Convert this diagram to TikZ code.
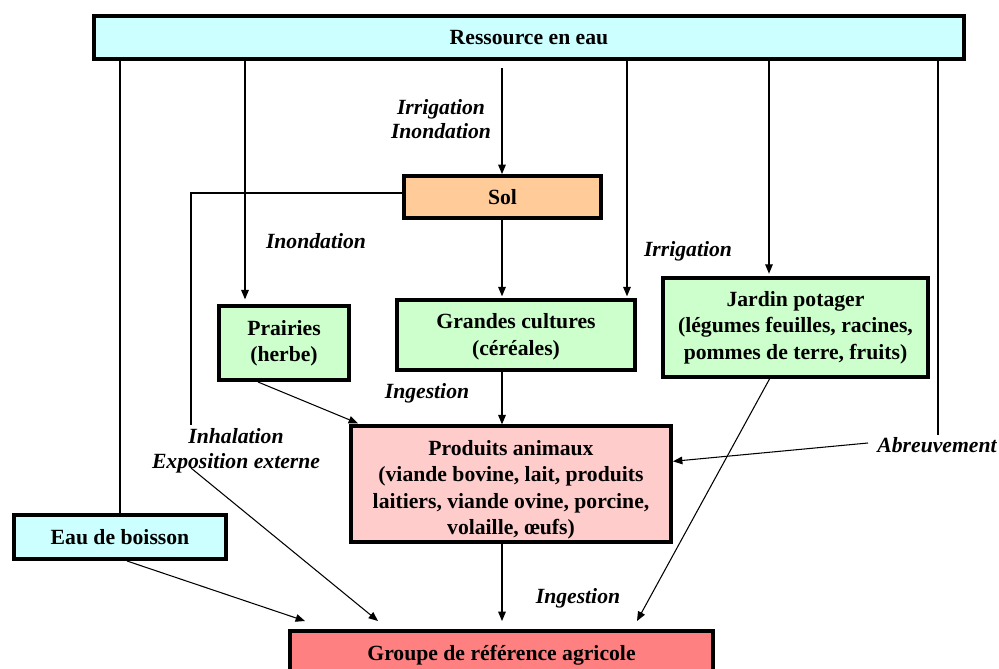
\documentclass[tikz,border=0pt]{standalone}
\usepackage{fontspec}
\setmainfont{Liberation Serif}
\usetikzlibrary{arrows.meta,calc}

\definecolor{eau}{HTML}{CCFFFF}
\definecolor{sol}{HTML}{FFCC99}
\definecolor{vege}{HTML}{CCFFCC}
\definecolor{anim}{HTML}{FFCCCC}
\definecolor{grp}{HTML}{FF8080}

\begin{document}
\begin{tikzpicture}[x=0.03cm,y=-0.03cm]

% ---------- styles ----------
\tikzset{
  box/.style={draw=black,line width=3.4pt,align=center,inner sep=2pt,
    font=\fontsize{18.5}{22.5}\selectfont\bfseries},
  lbl/.style={align=center,inner sep=1pt,
    font=\fontsize{18.5}{21}\selectfont\bfseries\itshape},
  fil/.style={line width=0.9pt},
  arr/.style={fil,-{Triangle[length=8pt,width=6.5pt]}}
}

% ---------- frame ----------
\useasboundingbox (0,0) rectangle (999,669);
\clip (0,0) rectangle (999,669);

% ---------- boxes ----------
\node[box,fill=eau,minimum width=26.1cm,minimum height=1.29cm]
  (res) at (529,37.5) {Ressource en eau};
\node[box,fill=sol,minimum width=5.91cm,minimum height=1.26cm]
  (sol) at (502.5,197) {Sol};
\node[box,fill=vege,minimum width=3.9cm,minimum height=2.22cm]
  (prairies) at (284,343) {Prairies\\(herbe)};
\node[box,fill=vege,minimum width=7.14cm,minimum height=2.1cm]
  (cultures) at (516,335) {\rule{0pt}{16pt}Grandes cultures\\(céréales)};
\node[box,fill=vege,minimum width=7.95cm,minimum height=2.97cm]
  (jardin) at (795.5,327.5) {Jardin potager\\(légumes feuilles, racines,\\pommes de terre, fruits)};
\node[box,fill=anim,minimum width=9.6cm,minimum height=3.45cm]
  (produits) at (511,484) {\rule{0pt}{23pt}Produits animaux\\(viande bovine, lait, produits\\laitiers, viande ovine, porcine,\\volaille, œufs)};
\node[box,fill=eau,minimum width=6.36cm,minimum height=1.32cm]
  (boisson) at (120,537) {Eau de boisson};
\node[box,fill=grp,minimum width=12.69cm,minimum height=1.44cm]
  (groupe) at (501.5,655) {Groupe de référence agricole};

% ---------- labels ----------
\node[lbl] (irrinond) at (441,119) {Irrigation\\Inondation};
\node[lbl] (inond)    at (316,241) {Inondation};
\node[lbl] (irrig)    at (688,251) {Irrigation};
\node[lbl] (ingA)     at (427,393) {Ingestion};
\node[lbl] (ingB)     at (578,598) {Ingestion};
\node[lbl] (inhal)    at (236,451) {Inhalation\\Exposition externe};
\node[lbl] (abreuv)   at (937,445) {Abreuvement};

% ---------- taps on the water resource ----------
\coordinate (rBoisson)  at (120,61);
\coordinate (rPrairies) at (245,61);
\coordinate (rSol)      at (502,68);
\coordinate (rCultures) at (627,61);
\coordinate (rJardin)   at (769,61);
\coordinate (rAbreuv)   at (938,61);
\coordinate (inhTop)    at (191,425);
\coordinate (expo)      at (191,468);

\draw[fil] (rBoisson) -- (rBoisson |- boisson.north);
\draw[arr,shorten >=4pt] (rPrairies) -- (rPrairies |- prairies.north);
\draw[arr] (rSol) -- (rSol |- sol.north);
\draw[arr,shorten >=1.5pt] (rCultures) -- (rCultures |- cultures.north);
\draw[arr,shorten >=2pt] (rJardin) -- (rJardin |- jardin.north);
\draw[fil] (rAbreuv) -- (938,435);

% soil
\draw[fil] ($(sol.west)+(0,-4)$) -| (inhTop);
\draw[arr,shorten >=1.5pt] (rSol |- sol.south) -- (rSol |- cultures.north);

% feed to animals
\draw[arr] ($(prairies.south)+(-26,0)$) -- ($(produits.north west)+(9,-1)$);
\draw[arr] (cultures.south -| rSol) -- (produits.north -| rSol);
\draw[arr] ($(abreuv.west)+(-8,-2)$) -- ($(produits.north east)!0.31!(produits.south east)$);

% exposure of the group
\draw[arr] ($(boisson.south)+(7,0)$) -- ($(groupe.north west)+(17,-8)$);
\draw[arr] (expo) -- ($(groupe.north west)+(90,-8)$);
\draw[arr] (produits.south -| rSol) -- ($(groupe.north -| rSol)+(0,-8)$);
\draw[arr] ($(jardin.south)+(-26,0)$) -- ($(groupe.north west)+(349,-8)$);

\end{tikzpicture}
\end{document}
